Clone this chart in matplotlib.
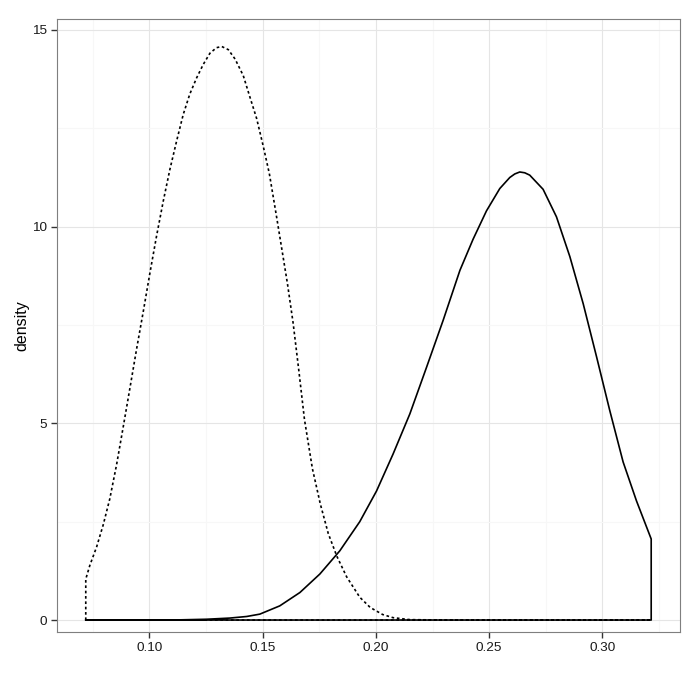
import matplotlib
matplotlib.use('Agg')
import matplotlib.pyplot as plt
from matplotlib.ticker import MultipleLocator

plt.rcParams['font.family'] = ['Liberation Sans', 'DejaVu Sans']

# values
x_dash = [0.0720, 0.0738, 0.0768, 0.0797, 0.0826, 0.0856, 0.0885, 0.0915, 0.0944,
          0.0974, 0.1003, 0.1032, 0.1062, 0.1091, 0.1121, 0.1150, 0.1179, 0.1209,
          0.1238, 0.1268, 0.1297, 0.1320, 0.1349, 0.1379, 0.1415, 0.1444, 0.1474,
          0.1503, 0.1530, 0.1562, 0.1586, 0.1610, 0.1635, 0.1660, 0.1685, 0.1720,
          0.1755, 0.1790, 0.1828, 0.1871, 0.1929, 0.1975, 0.2030, 0.2076, 0.2150,
          0.2300, 0.2700, 0.3215]
y_dash = [1.04, 1.39, 1.86, 2.42, 3.08, 3.95, 4.90, 5.90, 6.88,
          7.85, 8.82, 9.75, 10.65, 11.45, 12.18, 12.85, 13.37, 13.78,
          14.12, 14.41, 14.55, 14.58, 14.50, 14.26, 13.84, 13.30, 12.75,
          12.05, 11.35, 10.25, 9.40, 8.55, 7.55, 6.35, 5.10, 3.85,
          2.95, 2.20, 1.62, 1.10, 0.58, 0.32, 0.14, 0.06, 0.01,
          0.00, 0.00, 0.00]

x_solid = [0.0720, 0.1100, 0.1253, 0.1356, 0.1430, 0.1488, 0.1576, 0.1665, 0.1753,
           0.1841, 0.1929, 0.2003, 0.2076, 0.2150, 0.2224, 0.2297, 0.2371, 0.2429,
           0.2488, 0.2547, 0.2591, 0.2613, 0.2635, 0.2657, 0.2679, 0.2738, 0.2797,
           0.2856, 0.2915, 0.2974, 0.3032, 0.3091, 0.3150, 0.3215]
y_solid = [0.00, 0.00, 0.02, 0.05, 0.09, 0.15, 0.36, 0.70, 1.17,
           1.76, 2.50, 3.28, 4.22, 5.24, 6.43, 7.62, 8.89, 9.68,
           10.40, 10.97, 11.25, 11.34, 11.39, 11.37, 11.31, 10.95, 10.25,
           9.24, 8.04, 6.69, 5.33, 4.02, 3.03, 2.06]

fig = plt.figure(figsize=(7, 7), dpi=100)
ax = fig.add_axes([0.0814, 0.0971, 0.8900, 0.8758])


def outline(xs, ys):
    # closed density outline, like geom_density
    px = [xs[0]] + list(xs) + [xs[-1], xs[0]]
    py = [0] + list(ys) + [0, 0]
    return px, py


px, py = outline(x_solid, y_solid)
ax.plot(px, py, color='black', lw=1.2, zorder=3, solid_joinstyle='round')
px, py = outline(x_dash, y_dash)
ax.plot(px, py, color='black', lw=1.2, linestyle=(0, (1.6, 1.6)), zorder=3,
        dash_joinstyle='round')

ax.set_xlim(0.0593, 0.3342)
ax.set_ylim(-0.305, 15.28)

ax.xaxis.set_major_locator(MultipleLocator(0.05))
ax.xaxis.set_minor_locator(MultipleLocator(0.025))
ax.yaxis.set_major_locator(MultipleLocator(5))
ax.yaxis.set_minor_locator(MultipleLocator(2.5))
ax.set_xticklabels([f'{t:.2f}' for t in ax.get_xticks()])
ax.set_yticklabels([f'{t:g}' for t in ax.get_yticks()])

ax.grid(which='major', color='#e5e5e5', lw=0.8)
ax.grid(which='minor', color='#f7f7f7', lw=0.8)
ax.set_axisbelow(True)

for s in ax.spines.values():
    s.set_color('#7f7f7f')
    s.set_linewidth(0.8)

ax.tick_params(which='major', length=4, width=1.0, color='#333333',
               labelsize=9.7, labelcolor='#1a1a1a', pad=3)
ax.tick_params(which='minor', length=0)

ax.set_ylabel('density', fontsize=11.5, labelpad=2)
ax.set_xlabel('')

fig.savefig('out.png', dpi=100)
